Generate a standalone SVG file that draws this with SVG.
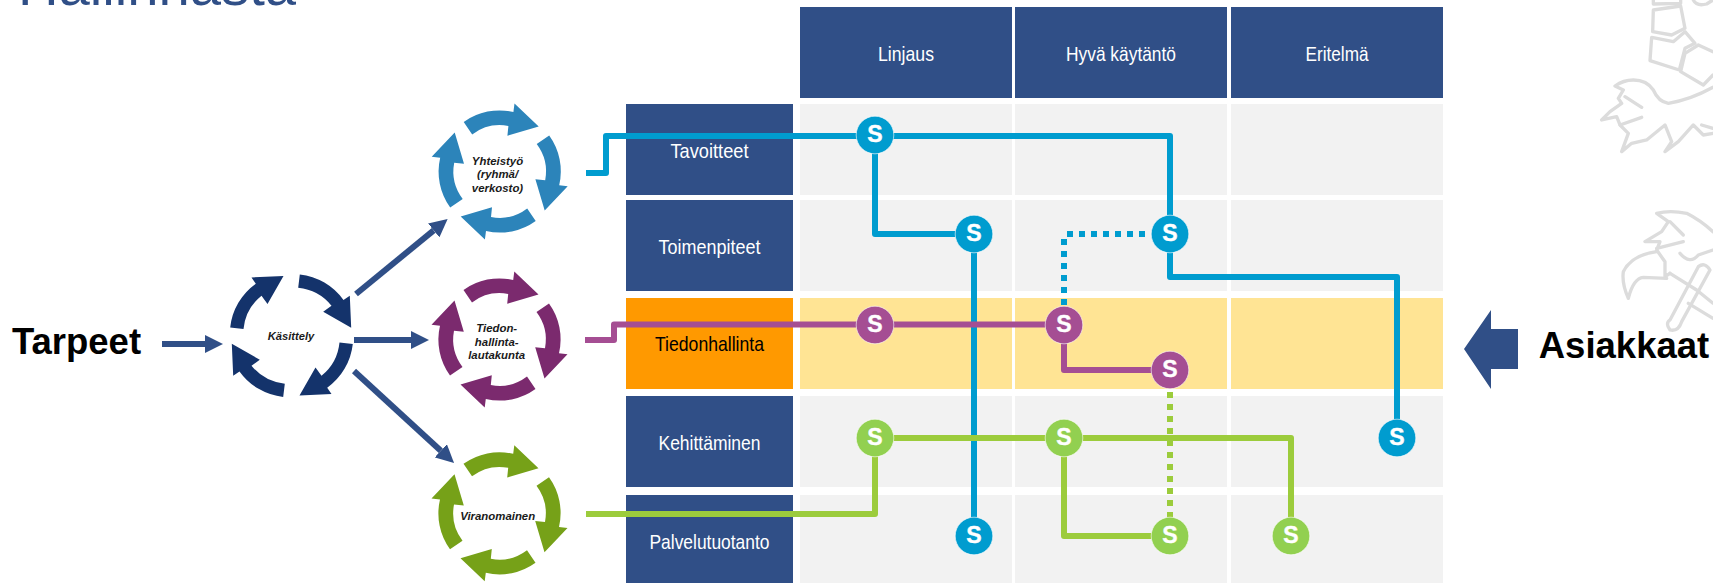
<svg xmlns="http://www.w3.org/2000/svg" xmlns:xlink="http://www.w3.org/1999/xlink" width="1713" height="583" viewBox="0 0 1713 583">
<style>
text{font-family:"Liberation Sans",Arial,sans-serif}
.hd{fill:#304F87}.cell{fill:#F2F2F2}.hi{fill:#FFE494}
.lbl{font-size:21px;fill:#fff;text-anchor:middle}
.big{font-size:36.500px;font-weight:bold;fill:#000;text-anchor:middle}
.ring{font-size:11.400px;font-weight:bold;font-style:italic;fill:#1a1a1a;text-anchor:middle}
.line{fill:none;stroke-width:6;stroke-linejoin:round}
.dot{fill:none;stroke-width:6;stroke-dasharray:6 6}
.flow{fill:none;stroke:#304F87;stroke-width:6}
.s{font-size:23px;font-weight:bold;fill:#fff;stroke:#fff;stroke-width:.4;text-anchor:middle}
.sc{stroke:#fff;stroke-opacity:.6;stroke-width:1}
.b{stroke:#009CCF}.p{stroke:#A54E93}.g{stroke:#9CCC3C}
.lion{fill:none;stroke:#DCDCDC;stroke-width:10;stroke-linejoin:round;stroke-linecap:round;filter:url(#soft)}
</style>
<defs>
<filter id="soft" x="-5%" y="-5%" width="110%" height="110%"><feGaussianBlur stdDeviation="2"/></filter>
<marker id="ah" markerUnits="userSpaceOnUse" markerWidth="18" markerHeight="18" viewBox="0 0 18 18" refX="0" refY="9" orient="auto"><path d="M0,0L18,9L0,18Z" fill="#304F87"/></marker>
<path id="ra" d="M-36,-49.500A61,61 0 0 1 13.700,-59.500L14.800,-68L39,-45L7.700,-35.700L8.700,-45.500A46,46 0 0 0 -27.500,-37Z"/>
<path id="rk" d="M8.300,-61.300A62,62 0 0 1 52,-35.700L58.300,-40L59.700,-8L31.700,-24L40,-30A49,49 0 0 0 6.700,-48Z"/>
<g id="cy"><use xlink:href="#ra" href="#ra"/><use xlink:href="#ra" href="#ra" transform="rotate(90)"/><use xlink:href="#ra" href="#ra" transform="rotate(180)"/><use xlink:href="#ra" href="#ra" transform="rotate(270)"/></g>
<g id="sb"><circle r="18.800" class="sc"/><text class="s" y="7">S</text></g>
</defs>

<g id="title"><text x="18" y="5" font-size="56" fill="#304F87" textLength="278" lengthAdjust="spacingAndGlyphs">Hallinnasta</text></g>

<g id="crest">
<g transform="translate(1590,0) scale(.3333)" class="lion">
<path d="M190,30L272,18L285,85L245,105L188,95Z"/>
<path d="M185,112L250,125L285,95L315,130L285,145L268,210L180,182Z"/>
<path d="M285,160L325,135L369,155M285,160L272,215L340,255L369,225"/>
<path d="M190,0V12L272,10V0M310,0Q320,20 350,12L369,0"/>
<path d="M369,262Q300,300 235,310Q205,305 190,270Q170,240 130,240Q100,240 75,258L100,270L85,295L95,310L60,335L35,360L80,350L90,375L115,400L95,455L125,430L170,420L225,375L245,425L225,455L265,425L310,375L340,405L369,400"/>
<path d="M105,290L155,322M90,375L155,352M335,375L369,385"/>
</g>
<g transform="translate(1590,190) scale(.3333)" class="lion">
<path d="M369,125Q330,90 290,70Q240,60 200,70L235,95L215,125L165,155L210,155L200,180L225,215L225,260L240,250"/>
<path d="M240,95L280,135M200,175L280,155"/>
<path d="M115,325Q95,280 100,245Q125,195 200,185M115,325Q130,265 160,262L230,265"/>
<path d="M240,390L325,230Q345,215 360,240L275,395Q265,425 240,420Q225,400 240,390Z"/>
<path d="M270,190Q300,225 325,195L369,180M240,250L320,300L369,340M295,340L369,385"/>
</g>
</g>

<g id="grid">
<rect class="hd" x="800" y="7" width="212" height="91"/>
<rect class="hd" x="1015" y="7" width="212" height="91"/>
<rect class="hd" x="1231" y="7" width="212" height="91"/>
<rect class="cell" x="800" y="104" width="212" height="91"/><rect class="cell" x="1015" y="104" width="212" height="91"/><rect class="cell" x="1231" y="104" width="212" height="91"/>
<rect class="cell" x="800" y="200" width="212" height="91"/><rect class="cell" x="1015" y="200" width="212" height="91"/><rect class="cell" x="1231" y="200" width="212" height="91"/>
<rect class="hi" x="800" y="298" width="212" height="91"/><rect class="hi" x="1015" y="298" width="212" height="91"/><rect class="hi" x="1231" y="298" width="212" height="91"/>
<rect class="cell" x="800" y="396" width="212" height="91"/><rect class="cell" x="1015" y="396" width="212" height="91"/><rect class="cell" x="1231" y="396" width="212" height="91"/>
<rect class="cell" x="800" y="495" width="212" height="88"/><rect class="cell" x="1015" y="495" width="212" height="88"/><rect class="cell" x="1231" y="495" width="212" height="88"/>
</g>

<g id="col-linjaus"><text class="lbl" x="906" y="61" textLength="56" lengthAdjust="spacingAndGlyphs">Linjaus</text></g>
<g id="col-hyva"><text class="lbl" x="1121" y="61" textLength="110" lengthAdjust="spacingAndGlyphs">Hyvä käytäntö</text></g>
<g id="col-eritelma"><text class="lbl" x="1337" y="61" textLength="63" lengthAdjust="spacingAndGlyphs">Eritelmä</text></g>

<g id="row-tavoitteet"><rect class="hd" x="626" y="104" width="167" height="91"/><text class="lbl" x="709.500" y="158" textLength="78" lengthAdjust="spacingAndGlyphs">Tavoitteet</text></g>
<g id="row-toimenpiteet"><rect class="hd" x="626" y="200" width="167" height="91"/><text class="lbl" x="709.500" y="254" textLength="102" lengthAdjust="spacingAndGlyphs">Toimenpiteet</text></g>
<g id="row-tiedonhallinta"><rect fill="#FF9900" x="626" y="298" width="167" height="91"/><text class="lbl" style="fill:#000" x="709.500" y="351" textLength="109" lengthAdjust="spacingAndGlyphs">Tiedonhallinta</text></g>
<g id="row-kehittaminen"><rect class="hd" x="626" y="396" width="167" height="91"/><text class="lbl" x="709.500" y="450" textLength="102" lengthAdjust="spacingAndGlyphs">Kehittäminen</text></g>
<g id="row-palvelutuotanto"><rect class="hd" x="626" y="495" width="167" height="88"/><text class="lbl" x="709.500" y="549" textLength="120" lengthAdjust="spacingAndGlyphs">Palvelutuotanto</text></g>

<g id="connectors">
<path class="flow" d="M162,344H205" marker-end="url(#ah)"/>
<path class="flow" d="M354,340H411" marker-end="url(#ah)"/>
<path class="flow" d="M356,294L433.700,230.400" marker-end="url(#ah)"/>
<path class="flow" d="M354,371L440.800,450.800" marker-end="url(#ah)"/>
<path class="line b" d="M586,173H606V136H1170V277H1397V420"/>
<path class="line b" d="M875,136V234H974V520"/>
<path class="dot b" d="M1145,234H1067"/>
<path class="dot b" d="M1064,239V306"/>
<path class="line p" d="M585,340H614V324.500H1064V370H1170"/>
<path class="line g" d="M586,514H875V438H1291V520"/>
<path class="line g" d="M1064,438V536H1170"/>
<path class="dot g" d="M1170,392V520"/>
</g>

<g id="tarpeet"><text class="big" x="76.500" y="354">Tarpeet</text></g>
<g id="asiakkaat"><text class="big" x="1624" y="358">Asiakkaat</text><path fill="#304F87" d="M1464,349L1491,310V329H1518V369H1491V389Z"/></g>

<g id="kasittely" fill="#14336B"><g transform="translate(291.500,335.700)"><use xlink:href="#rk" href="#rk"/><use xlink:href="#rk" href="#rk" transform="rotate(90)"/><use xlink:href="#rk" href="#rk" transform="rotate(180)"/><use xlink:href="#rk" href="#rk" transform="rotate(270)"/></g><text class="ring" x="291" y="340" style="font-size:11.200px">Käsittely</text></g>
<g id="yhteistyo" fill="#2C84BA"><use xlink:href="#cy" href="#cy" transform="translate(499.700,171.500)"/><text class="ring" x="497.500" y="164.500">Yhteistyö</text><text class="ring" x="497.500" y="178">(ryhmä/</text><text class="ring" x="497.500" y="191.700">verkosto)</text></g>
<g id="lautakunta" fill="#7B2A6E"><use xlink:href="#cy" href="#cy" transform="translate(499.500,339.500)"/><text class="ring" x="496.700" y="332">Tiedon-</text><text class="ring" x="496.700" y="346">hallinta-</text><text class="ring" x="496.700" y="359">lautakunta</text></g>
<g id="viranomainen" fill="#76A118"><use xlink:href="#cy" href="#cy" transform="translate(499.500,513.300)"/><text class="ring" x="497.700" y="520">Viranomainen</text></g>

<g id="s-1" fill="#009CCF" transform="translate(875,135)"><use xlink:href="#sb" href="#sb"/></g>
<g id="s-2" fill="#009CCF" transform="translate(974,234)"><use xlink:href="#sb" href="#sb"/></g>
<g id="s-3" fill="#009CCF" transform="translate(1170,234)"><use xlink:href="#sb" href="#sb"/></g>
<g id="s-4" fill="#A54E93" transform="translate(875,325)"><use xlink:href="#sb" href="#sb"/></g>
<g id="s-5" fill="#A54E93" transform="translate(1064,325)"><use xlink:href="#sb" href="#sb"/></g>
<g id="s-6" fill="#A54E93" transform="translate(1170,370)"><use xlink:href="#sb" href="#sb"/></g>
<g id="s-7" fill="#92D050" transform="translate(875,438)"><use xlink:href="#sb" href="#sb"/></g>
<g id="s-8" fill="#92D050" transform="translate(1064,438)"><use xlink:href="#sb" href="#sb"/></g>
<g id="s-9" fill="#009CCF" transform="translate(1397,438)"><use xlink:href="#sb" href="#sb"/></g>
<g id="s-10" fill="#009CCF" transform="translate(974,536)"><use xlink:href="#sb" href="#sb"/></g>
<g id="s-11" fill="#92D050" transform="translate(1170,536)"><use xlink:href="#sb" href="#sb"/></g>
<g id="s-12" fill="#92D050" transform="translate(1291,536)"><use xlink:href="#sb" href="#sb"/></g>
</svg>
